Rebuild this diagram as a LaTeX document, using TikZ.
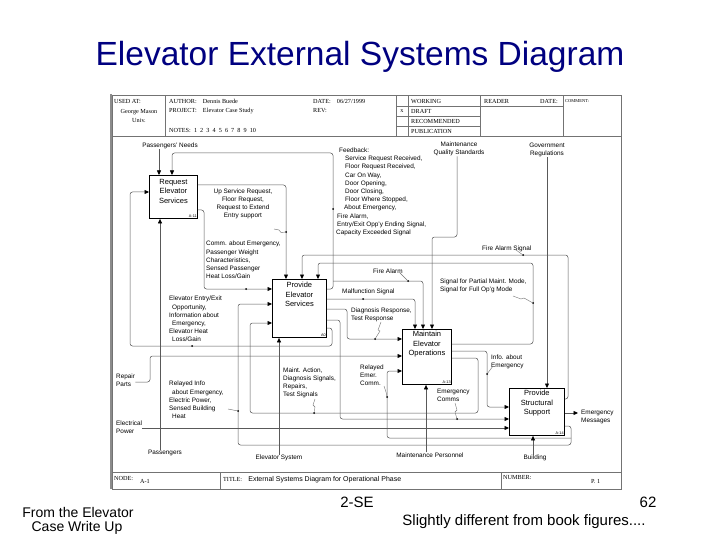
\documentclass[tikz,border=0pt]{standalone}
\usepackage{fontspec}
\setmainfont{Liberation Sans}
\newfontfamily\hdrfont{Liberation Serif}
\usetikzlibrary{arrows.meta,positioning}
\definecolor{titleblue}{HTML}{000080}

\begin{document}
\begin{tikzpicture}[x=1pt, y=-1pt,
    ibox/.style={draw, line width=0.9pt, anchor=north west, inner sep=0pt},
    boxtxt/.style={font=\fontsize{7.5}{9.5}\selectfont, align=center, inner sep=0pt},
    tag/.style={font=\fontsize{3.8}{4}\selectfont, inner sep=1pt},
    lbl/.style={font=\fontsize{6.4}{8.2}\selectfont, inner sep=0pt, align=left, anchor=north west},
    mlbl/.style={font=\fontsize{6.4}{8.6}\selectfont, inner sep=0pt, align=center},
    hdr/.style={font=\hdrfont\fontsize{6.2}{7}\selectfont, inner sep=0pt, anchor=west},
    foot/.style={font=\fontsize{14}{16}\selectfont, inner sep=0pt},
    sheet/.style={draw=black!55, line width=0.5pt},
    flow/.style={draw=black!65, line width=0.5pt, rounded corners=2.5pt, -{Triangle[length=4.5pt, width=4pt, color=black]}},
    lead/.style={draw=black!55, line width=0.4pt},
    dot/.style={circle, fill=black, inner sep=0pt, minimum size=2pt}]

\fill[white] (0,0) rectangle (720,540);
\useasboundingbox (0,0) rectangle (720,540);

\node[font=\fontsize{33.5}{36}\selectfont, text=titleblue] (title) at (360,57) {Elevator External Systems Diagram};

% sheet and header
\draw[black!45, line width=2.5pt] (111,94) -- (111,489);
\draw[sheet] (112,95.5) rectangle (621,489);
\draw[sheet] (112,136) -- (621,136);
\draw[sheet] (165,95.5) -- (165,136);
\draw[sheet] (396,95.5) -- (396,136);
\draw[sheet] (408,95.5) -- (408,136);
\draw[sheet] (480,95.5) -- (480,136);
\draw[sheet] (563,95.5) -- (563,136);
\draw[sheet] (396,106) -- (563,106);
\draw[sheet] (396,116) -- (480,116);
\draw[sheet] (396,126) -- (480,126);
\draw[sheet] (112,472) -- (621,472);
\draw[sheet] (220,472) -- (220,489);
\draw[sheet] (501,472) -- (501,489);

\node[hdr] (usedat) at (114,101) {USED AT:};
\node[hdr, anchor=center] (site1) at (139,112) {George Mason};
\node[hdr, anchor=center] (site2) at (139,120) {Univ.};
\node[hdr] (author) at (169,101) {AUTHOR:\quad Dennis Buede};
\node[hdr] (project) at (169,111) {PROJECT:\quad Elevator Case Study};
\node[hdr] (notes) at (169,130) {NOTES:\enspace 1\enspace 2\enspace 3\enspace 4\enspace 5\enspace 6\enspace 7\enspace 8\enspace 9\enspace 10};
\node[hdr] (date) at (313,101) {DATE:\quad 06/27/1999};
\node[hdr] (rev) at (313,111) {REV:};
\node[hdr, anchor=center] (mark) at (402,111) {x};
\node[hdr] (working) at (411,101) {WORKING};
\node[hdr] (draft) at (411,111) {DRAFT};
\node[hdr] (recom) at (411,121) {RECOMMENDED};
\node[hdr] (publ) at (411,131) {PUBLICATION};
\node[hdr] (reader) at (484,101) {READER};
\node[hdr] (rdate) at (540,101) {DATE:};
\node[hdr, font=\hdrfont\fontsize{4.5}{5}\selectfont] (comment) at (565,101) {COMMENT:};

\node[hdr] (nodeno) at (114,478) {NODE:};
\node[hdr] (nodeval) at (140,481) {A-1};
\node[hdr] (ttl) at (223,479.5) {TITLE:\quad{\rmfamily\fontsize{7}{8}\selectfont External Systems Diagram for Operational Phase}};
\node[hdr] (number) at (503,478) {NUMBER:};
\node[hdr] (numval) at (591,481) {P. 1};

% activity boxes
\node[ibox, minimum width=48pt, minimum height=43pt] (req) at (149,175) {};
\node[ibox, minimum width=54pt, minimum height=58pt] (pes) at (272,279) {};
\node[ibox, minimum width=49pt, minimum height=55pt] (meo) at (402,329) {};
\node[ibox, minimum width=55pt, minimum height=47pt] (pss) at (509,388) {};
\node[boxtxt, below=4pt of req.north] {Request\\Elevator\\Services};
\node[boxtxt, below=3pt of pes.north] {Provide\\Elevator\\Services};
\node[boxtxt, below=2pt of meo.north] {Maintain\\Elevator\\Operations};
\node[boxtxt, below=2pt of pss.north] {Provide\\Structural\\Support};
\node[tag, above left=0pt of req.south east] {A-11};
\node[tag, above left=0pt of pes.south east] {A0};
\node[tag, above left=0pt of meo.south east] {A-13};
\node[tag, above left=0pt of pss.south east] {A-14};

% arrow labels
\node[mlbl] (pneeds) at (170,146) {Passengers' Needs};
\node[mlbl] (mqs) at (459,149) {Maintenance\\Quality Standards};
\node[mlbl] (gov) at (547,150) {Government\\Regulations};
\node[lbl] (fbtxt) at (336,147.7) {\hspace*{3pt}Feedback:\\\hspace*{9pt}Service Request Received,\\\hspace*{9pt}Floor Request Received,\\\hspace*{9pt}Car On Way,\\\hspace*{9pt}Door Opening,\\\hspace*{9pt}Door Closing,\\\hspace*{9pt}Floor Where Stopped,\\\hspace*{8pt}About Emergency,\\\hspace*{1pt}Fire Alarm,\\\hspace*{1pt}Entry/Exit Opp'y Ending Signal,\\Capacity Exceeded Signal};
\node[lbl, align=center, anchor=north] (ustxt) at (243,188.5) {Up Service Request,\\Floor Request,\\Request to Extend\\Entry support};
\node[lbl] (cetxt) at (206,241) {Comm. about Emergency,\\Passenger Weight\\Characteristics,\\Sensed Passenger\\Heat Loss/Gain};
\node[lbl] (fastxt) at (482,245.5) {Fire Alarm Signal};
\node[lbl] (fatxt) at (373,268.5) {Fire Alarm};
\node[lbl] (mftxt) at (342,288.5) {Malfunction Signal};
\node[lbl] (sgtxt) at (440,278.5) {Signal for Partial Maint. Mode,\\Signal for Full Op'g Mode};
\node[lbl] (drtxt) at (351,307.5) {Diagnosis Response,\\Test Response};
\node[lbl] (eetxt) at (169,296) {Elevator Entry/Exit\\\hspace*{3pt}Opportunity,\\Information about\\\hspace*{3pt}Emergency,\\Elevator Heat\\\hspace*{3pt}Loss/Gain};
\node[lbl] (ietxt) at (491,354.5) {Info. about\\Emergency};
\node[lbl] (retxt) at (360,364.5) {Relayed\\Emer.\\Comm.};
\node[lbl] (matxt) at (283,367.5) {Maint. Action,\\Diagnosis Signals,\\Repairs,\\Test Signals};
\node[lbl] (ectxt) at (437,388.5) {Emergency\\Comms};
\node[lbl] (ritxt) at (169,381) {Relayed Info\\\hspace*{3pt}about Emergency,\\Electric Power,\\Sensed Building\\\hspace*{3pt}Heat};
\node[lbl] (repair) at (116,373.5) {Repair\\Parts};
\node[lbl] (elpow) at (116,420.5) {Electrical\\Power};
\node[lbl] (emsg) at (581,409.5) {Emergency\\Messages};
\node[mlbl] (pass) at (165,453) {Passengers};
\node[mlbl] (elsys) at (279,458) {Elevator System};
\node[mlbl] (mpers) at (430,455) {Maintenance Personnel};
\node[mlbl] (bldg) at (535,458) {Building};

% controls
\draw[flow] (pneeds.south -| 159,0) -- (req.north -| 159,0);
\draw[flow] (pes.east |- 0,289) -| (333,153) -| (req.north -| 172,0);
\coordinate (fa) at (333,281);
\draw[flow] (fa) -| (meo.north -| 423,0);
\draw[flow] (pes.east |- 0,299) -| (meo.north -| 415,0);
\draw[flow] (mqs.south -| 457,0) |- (432,237) -- (meo.north -| 432,0);
\draw[flow] (meo.east |- 0,344) -| (533,263) -| (pes.north -| 318,0);
\draw[flow] (pss.east |- 0,399) -| (568,255) -| (pes.north -| 302,0);
\draw[flow] (gov.south -| 547,0) -- (pss.north -| 547,0);
\draw[flow] (req.east |- 0,185) -| (pes.north -| 286,0);
% inputs
\draw[flow] (req.east |- 0,210) -| (204,289) -- (pes.west |- 0,289);
\draw[flow] (pes.east |- 0,328) -| (332,346) -| (130,192) -- (req.west |- 0,192);
\draw[flow] (pes.east |- 0,309) -| (347,339) -- (meo.west |- 0,339);
\draw[flow] (pes.east |- 0,320) -| (340,419) -- (pss.west |- 0,419);
\draw[flow] (repair.east |- 0,382) -| (150,356) -- (meo.west |- 0,356);
\draw[flow] (elpow.east |- 0,428) -- (pss.west |- 0,428);
\draw[flow] (meo.east |- 0,351) -| (487,407) -- (pss.west |- 0,407);
\draw[flow] (meo.east |- 0,358) -| (478,413) -| (250,323) -- (pes.west |- 0,323);
\draw[flow] (pss.east |- 0,426) -| (571,445) -| (238,304) -- (pes.west |- 0,304);
\coordinate (rf) at (571,438);
\draw[flow] (rf) -| (387,371) -- (meo.west |- 0,371);
\draw[flow, shorten >=3pt] (pss.east |- 0,413) -- (emsg.west |- 0,413);
% mechanisms
\draw[flow] (pass.north -| 160,0) -- (req.south -| 160,0);
\draw[flow] (elsys.north -| 279,0) -- (pes.south -| 279,0);
\draw[flow] (mpers.north -| 426,0) -- (meo.south -| 426,0);
\draw[flow] (bldg.north -| 533,0) -- (pss.south -| 533,0);

% label dots and leaders
\node[dot] (d-fb) at (333,209) {};
\node[dot] (d-fa) at (408,281) {};
\node[dot] (d-mf) at (363,299) {};
\node[dot] (d-us) at (286,232) {};
\node[dot] (d-ce) at (246,289) {};
\node[dot] (d-ee) at (192,346) {};
\node[dot] (d-dr) at (375,339) {};
\node[dot] (d-sg) at (533,303) {};
\node[dot] (d-fas) at (523,255) {};
\node[dot] (d-ie) at (487,374) {};
\node[dot] (d-re) at (387,397) {};
\node[dot] (d-ma) at (314,413) {};
\node[dot] (d-ec) at (457,419) {};
\node[dot] (d-ri) at (238,411) {};
\draw[lead] (274,229) -- (279,230) -- (281,232.5) -- (d-us);
\draw[lead] (381,322) -- (378,330) -- (380,331) -- (d-dr);
\draw[lead] (513,296) -- (521,299) -- (524,298) -- (d-sg);
\draw[lead] (493,366) -- (490,370) -- (d-ie);
\draw[lead] (315,399) -- (313,405) -- (315,407) -- (d-ma);
\draw[lead] (455,403) -- (457,410) -- (455,412) -- (d-ec);
\draw[lead] (384,386) -- (386,392) -- (d-re);
\draw[lead] (400,273) -- (d-fa);
\draw[lead] (516,250) -- (d-fas);
\draw[lead] (228,409) -- (d-ri);

% slide footer
\node[foot] (src1) at (78,512) {From the Elevator};
\node[foot] (src2) at (77,528) {Case Write Up};
\node[foot, font=\fontsize{15}{16}\selectfont] (course) at (357,502) {2-SE};
\node[foot, font=\fontsize{15}{16}\selectfont] (pageno) at (648,502) {62};
\node[foot, font=\fontsize{15}{16}\selectfont] (remark) at (524,522) {Slightly different from book figures....};
\end{tikzpicture}
\end{document}
